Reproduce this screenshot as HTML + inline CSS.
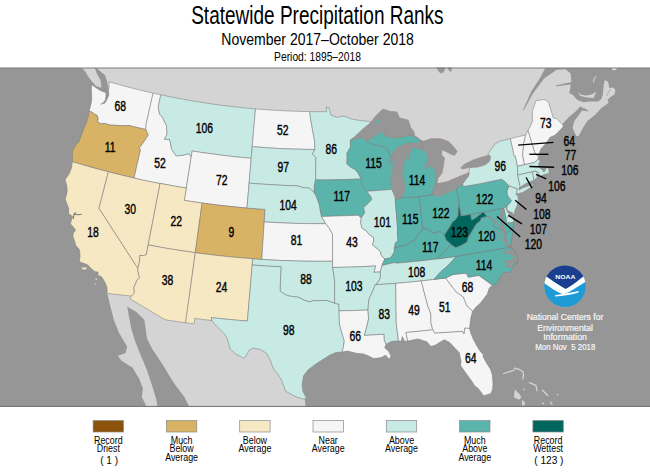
<!DOCTYPE html><html><head><meta charset="utf-8"><style>
html,body{margin:0;padding:0;background:#fff;width:650px;height:475px;overflow:hidden}
svg{display:block}
</style></head><body><svg width="650" height="475" viewBox="0 0 650 475">
<g font-family="Liberation Sans, sans-serif" text-anchor="middle" fill="#000">
<text transform="translate(317.4 23.9) scale(0.731 1)" font-size="26">Statewide Precipitation Ranks</text>
<text transform="translate(317.6 44.6) scale(0.825 1)" font-size="17">November 2017&#8211;October 2018</text>
<text transform="translate(317.5 60.6) scale(0.857 1)" font-size="12">Period: 1895&#8211;2018</text>
</g>
<rect x="0" y="68" width="650" height="338.8" fill="#969696"/>
<path d="M545.3,68.0 540.3,77.4 531.4,91.3 522.6,110.9 524.5,109.0 532.7,93.8 544.1,78.6 556.7,69.8 565.6,69.2 570.6,73.6 571.2,80.0 571.2,82.3 566.5,83.1 560.0,84.5 555.8,85.4 556.0,86.6 561.0,85.8 566.0,85.0 570.4,84.6 570.4,87.7 569.2,93.1 573.5,95.4 577.3,100.0 583.5,102.3 589.6,101.5 598.1,101.5 601.2,99.2 602.7,95.4 603.8,84.5 604.8,79.9 608.0,81.7 609.4,88.2 613.1,87.2 615.4,90.0 614.5,94.6 609.8,97.4 607.5,100.2 608.7,102.8 605.0,105.4 601.7,107.8 595.0,115.0 587.8,120.5 582.8,128.0 579.0,135.6 576.4,136.3 572.6,128.0 574.2,121.3 579.5,113.9 582.0,110.5 589.0,111.5 586.0,109.0 582.5,107.8 580.4,106.2 578.0,109.0 575.3,111.8 569.0,117.1 563.7,122.4 562.5,124.2 550.0,135.0 480.0,175.0 350.0,200.0 150.0,150.0 110.0,95.0 106.9,80.8 105.1,75.2 100.5,71.5 96.8,68.0Z" fill="#d4d4d4" stroke="none"/>
<path d="M82.0,68.0 85.2,71.5 88.5,77.1 92.2,81.7 95.9,85.9 101.4,87.7 100.5,79.9 96.8,73.4 94.9,68.0Z" fill="#d4d4d4" stroke="none"/>
<path d="M578.1,91.2 579.6,95.4 584.2,96.9 589.6,97.7 593.5,98.1 596.5,91.5 591.9,94.6 585.8,95.4 580.4,94.6Z" fill="#d4d4d4" stroke="none"/>
<path d="M107.2,293.3 109.8,303.9 113.8,319.8 119.1,333.1 127.1,346.4 125.7,353.0 117.8,355.7 121.8,361.0 132.4,367.6 139.0,378.2 143.0,388.8 141.7,396.8 145.7,404.8 146.0,407.0 157.6,407.0 156.3,399.5 152.3,386.2 147.0,370.3 140.3,354.3 135.0,341.0 131.1,327.8 127.1,306.5 136.4,311.9 144.3,319.8 147.0,338.4 152.3,349.0 162.9,365.0 170.9,378.2 176.2,386.2 184.2,396.8 189.5,407.0 305.8,407.0 304.6,398.7 290.0,320.0 200.0,300.0 131.0,290.0Z" fill="#d4d4d4" stroke="none"/>
<path d="M436.2,67.5 445.5,67.5 443.8,72.3 440.5,73.6 438.6,71.2Z" fill="#969696"/>
<path d="M447.2,67.5 L451.8,67.5 L451.2,72.2 L448.6,70Z" fill="#969696"/>
<g stroke="#7c7c7c" stroke-width="0.55" stroke-linejoin="round"><path d="M108.8,81.8 116.2,83.8 123.5,85.8 130.9,87.8 138.3,89.6 145.7,91.4 153.1,93.1 146.1,124.2 145.9,129.5 140.3,128.2 134.7,126.9 129.1,125.6 126.3,125.8 121.1,125.7 115.2,125.3 110.0,125.1 104.3,123.4 101.1,124.0 97.4,121.6 98.0,118.3 97.0,115.4 94.4,114.0 91.9,112.2 89.1,111.2 90.5,105.9 91.7,99.9 91.6,94.6 91.3,90.0 91.6,84.6 94.5,86.7 99.4,89.9 103.9,91.9 105.9,92.2 106.0,96.3 105.2,100.6 101.6,104.1 100.8,103.9 104.9,103.1 106.7,99.7 108.8,95.2 108.5,90.6 109.2,85.1 108.8,81.8Z" fill="#f5f5f5"/><path d="M145.9,129.5 140.3,128.2 134.7,126.9 129.1,125.6 126.3,125.8 121.1,125.7 115.2,125.3 110.0,125.1 104.3,123.4 101.1,124.0 97.4,121.6 98.0,118.3 97.0,115.4 94.4,114.0 91.9,112.2 89.1,111.2 88.3,117.0 86.3,122.9 83.9,128.6 81.7,134.5 79.1,141.5 75.5,145.6 72.6,150.6 72.4,155.8 72.4,161.7 79.5,163.8 86.7,165.9 93.9,167.9 101.2,169.9 108.4,171.8 116.9,173.9 125.5,176.0 134.1,178.0 139.0,156.0 140.6,150.0 139.4,147.8 143.1,142.9 146.2,138.5 148.3,135.1 147.2,132.3 145.9,129.5Z" fill="#d8b365"/><path d="M72.4,161.7 79.5,163.8 86.7,165.9 93.9,167.9 101.2,169.9 108.4,171.8 99.0,208.2 137.9,268.4 138.0,271.6 139.4,277.6 136.7,280.9 133.9,287.3 134.3,293.1 131.5,296.1 107.2,293.4 106.9,286.7 103.4,279.5 101.0,276.3 98.1,275.7 98.0,272.0 95.0,271.7 91.6,268.9 87.5,264.7 80.3,262.2 79.4,260.6 80.1,256.3 79.3,249.6 75.9,245.5 72.9,236.2 73.3,233.0 75.5,230.4 74.2,228.1 70.4,223.8 72.5,216.6 68.5,213.4 68.8,209.0 65.3,199.4 67.2,191.5 66.9,186.2 65.1,179.7 69.2,173.8 71.5,167.9 72.4,161.7Z" fill="#f6e8c3"/><path d="M108.4,171.8 116.9,173.9 125.5,176.0 134.1,178.0 142.7,179.9 151.4,181.7 160.1,183.4 148.2,244.9 146.3,254.7 143.7,255.5 139.8,255.4 139.6,261.1 137.9,268.4 99.0,208.2 108.4,171.8Z" fill="#f6e8c3"/><path d="M153.1,93.1 160.8,94.8 158.2,107.1 159.6,114.1 162.3,117.2 166.5,125.6 167.0,133.9 164.6,139.2 169.7,139.5 171.7,149.4 176.2,155.9 183.3,155.2 188.8,153.6 191.2,157.2 186.3,188.0 177.5,186.6 168.8,185.0 160.1,183.4 151.4,181.7 142.7,179.9 134.1,178.0 139.0,156.0 140.6,150.0 139.4,147.8 143.1,142.9 146.2,138.5 148.3,135.1 147.2,132.3 145.9,129.5 146.1,124.2 153.1,93.1Z" fill="#f5f5f5"/><path d="M160.8,94.8 168.0,96.3 175.2,97.7 182.5,99.1 189.7,100.4 197.0,101.6 204.3,102.8 211.5,103.9 218.8,104.9 226.1,105.8 233.5,106.7 240.8,107.5 248.1,108.2 255.5,108.9 252.2,146.6 251.2,158.3 243.8,157.6 236.4,156.9 229.0,156.1 221.6,155.2 214.3,154.2 206.9,153.2 199.5,152.2 192.2,151.0 191.2,157.2 188.8,153.6 183.3,155.2 176.2,155.9 171.7,149.4 169.7,139.5 164.6,139.2 167.0,133.9 166.5,125.6 162.3,117.2 159.6,114.1 158.2,107.1 160.8,94.8Z" fill="#c7eae5"/><path d="M191.2,157.2 192.2,151.0 199.5,152.2 206.9,153.2 214.3,154.2 221.6,155.2 229.0,156.1 236.4,156.9 243.8,157.6 251.2,158.3 249.1,183.1 247.0,208.1 239.5,207.4 232.0,206.6 224.5,205.8 217.1,205.0 209.6,204.0 202.1,203.0 196.2,202.2 190.2,201.3 184.3,200.4 186.3,188.0 191.2,157.2Z" fill="#f5f5f5"/><path d="M160.1,183.4 168.8,185.0 177.5,186.6 186.3,188.0 184.3,200.4 190.2,201.3 196.2,202.2 202.1,203.0 195.3,252.7 187.4,251.5 179.5,250.4 171.7,249.1 163.8,247.8 156.0,246.4 148.2,244.9 160.1,183.4Z" fill="#f6e8c3"/><path d="M202.1,203.0 209.6,204.0 217.1,205.0 224.5,205.8 232.0,206.6 239.5,207.4 247.0,208.1 253.0,208.5 259.0,209.0 265.0,209.4 264.2,221.9 261.8,259.4 252.7,258.8 244.5,258.1 236.2,257.4 228.0,256.6 219.8,255.7 211.6,254.8 203.5,253.8 195.3,252.7 202.1,203.0Z" fill="#d8b365"/><path d="M195.3,252.7 187.4,251.5 179.5,250.4 171.7,249.1 163.8,247.8 156.0,246.4 148.2,244.9 146.3,254.7 143.7,255.5 139.8,255.4 139.6,261.1 137.9,268.4 138.0,271.6 139.4,277.6 136.7,280.9 133.9,287.3 134.3,293.1 131.5,296.1 130.0,298.8 165.0,319.7 171.9,320.8 178.7,321.8 185.6,322.8 195.3,252.7Z" fill="#f6e8c3"/><path d="M195.3,252.7 203.5,253.8 211.6,254.8 219.8,255.7 228.0,256.6 236.2,257.4 244.5,258.1 252.7,258.8 252.2,265.0 247.4,321.0 238.4,320.3 229.4,319.5 220.3,318.6 211.3,317.6 211.9,320.5 203.4,319.5 194.8,318.4 194.1,323.9 185.6,322.8 195.3,252.7Z" fill="#f6e8c3"/><path d="M255.5,108.9 263.2,109.5 271.0,110.1 278.7,110.5 286.5,110.9 294.3,111.2 302.0,111.5 309.8,111.6 310.4,117.8 311.5,124.0 313.0,132.6 314.6,141.3 314.9,149.5 307.1,149.4 299.2,149.2 291.4,149.0 283.5,148.7 275.7,148.3 267.9,147.8 260.0,147.2 252.2,146.6 255.5,108.9Z" fill="#f5f5f5"/><path d="M252.2,146.6 260.0,147.2 267.9,147.8 275.7,148.3 283.5,148.7 291.4,149.0 299.2,149.2 307.1,149.4 314.9,149.5 312.4,153.7 315.8,157.5 315.6,179.9 314.3,186.2 314.2,192.4 309.0,188.0 303.7,187.9 297.6,185.9 289.5,185.6 281.4,185.3 273.4,184.8 265.3,184.3 257.2,183.8 249.1,183.1 251.2,158.3 252.2,146.6Z" fill="#c7eae5"/><path d="M249.1,183.1 257.2,183.8 265.3,184.3 273.4,184.8 281.4,185.3 289.5,185.6 297.6,185.9 303.7,187.9 309.0,188.0 314.2,192.4 316.4,196.2 319.5,204.9 320.4,211.2 321.6,216.5 325.8,223.7 317.0,223.7 308.2,223.6 299.4,223.5 290.6,223.2 281.8,222.9 273.0,222.4 264.2,221.9 265.0,209.4 259.0,209.0 253.0,208.5 247.0,208.1 249.1,183.1Z" fill="#c7eae5"/><path d="M264.2,221.9 273.0,222.4 281.8,222.9 290.6,223.2 299.4,223.5 308.2,223.6 317.0,223.7 325.8,223.7 329.6,228.7 332.5,234.3 332.6,261.2 323.8,261.3 314.9,261.3 306.1,261.2 297.2,261.0 288.4,260.7 279.5,260.4 270.7,259.9 261.8,259.4 264.2,221.9Z" fill="#f5f5f5"/><path d="M261.8,259.4 270.7,259.9 279.5,260.4 288.4,260.7 297.2,261.0 306.1,261.2 314.9,261.3 323.8,261.3 332.6,261.2 332.7,267.5 334.7,281.2 334.6,303.2 326.4,300.4 319.4,300.7 313.4,300.7 309.4,301.9 303.5,299.9 298.6,297.3 293.6,296.6 287.7,295.8 282.8,293.1 280.0,291.0 281.0,266.7 273.8,266.4 266.6,266.0 259.4,265.5 252.2,265.0 252.7,258.8 261.8,259.4Z" fill="#c7eae5"/><path d="M334.6,303.2 326.4,300.4 319.4,300.7 313.4,300.7 309.4,301.9 303.5,299.9 298.6,297.3 293.6,296.6 287.7,295.8 282.8,293.1 280.0,291.0 281.0,266.7 273.8,266.4 266.6,266.0 259.4,265.5 252.2,265.0 247.4,321.0 238.4,320.3 229.4,319.5 220.3,318.6 211.3,317.6 211.9,320.5 214.9,324.3 220.5,329.9 226.1,336.0 228.6,343.1 230.2,348.9 235.0,353.6 240.1,356.3 243.7,358.4 246.6,355.2 249.0,350.4 252.9,348.2 260.6,349.5 266.7,353.4 270.6,361.0 273.4,368.6 277.5,373.7 281.5,380.0 285.5,391.2 295.2,396.4 302.8,399.0 306.7,398.3 302.6,391.0 302.1,384.5 303.6,375.7 308.0,370.0 313.9,365.4 322.0,360.0 330.1,355.0 336.0,352.5 342.0,352.1 343.4,347.1 344.3,340.9 342.0,333.5 339.4,323.7 339.1,310.9 339.0,304.3 334.6,303.2Z" fill="#c7eae5"/><path d="M309.8,111.6 315.4,111.7 320.9,111.7 326.4,111.7 326.4,107.0 329.0,107.9 330.9,115.1 337.3,117.4 343.7,116.0 351.9,119.1 360.0,120.5 368.2,121.3 371.5,122.3 369.0,126.5 360.0,134.5 350.3,140.0 350.5,147.0 346.9,153.3 347.1,157.1 346.9,163.9 351.3,167.5 354.8,169.2 358.4,173.4 361.1,178.9 353.5,179.3 346.0,179.5 338.4,179.7 330.8,179.9 323.2,179.9 315.6,179.9 315.8,157.5 312.4,153.7 314.9,149.5 314.6,141.3 313.0,132.6 311.5,124.0 310.4,117.8 309.8,111.6Z" fill="#c7eae5"/><path d="M315.6,179.9 323.2,179.9 330.8,179.9 338.4,179.7 346.0,179.5 353.5,179.3 361.1,178.9 362.0,185.2 366.7,191.2 371.0,196.6 371.7,199.7 367.9,203.6 363.6,207.6 364.7,212.6 361.2,218.0 358.2,215.3 321.6,216.5 320.4,211.2 319.5,204.9 316.4,196.2 314.2,192.4 314.3,186.2 315.6,179.9Z" fill="#5ab4ac"/><path d="M321.6,216.5 358.2,215.3 361.2,218.0 360.7,222.8 361.8,227.8 366.6,231.3 369.6,234.9 373.4,237.2 373.7,240.9 372.5,244.8 376.9,248.3 380.5,251.8 381.2,255.5 384.8,259.0 381.9,265.5 380.4,271.9 373.9,272.3 375.6,265.9 367.1,266.4 358.5,266.8 349.9,267.1 341.3,267.3 332.7,267.5 332.6,261.2 332.5,234.3 329.6,228.7 325.8,223.7 321.6,216.5Z" fill="#f5f5f5"/><path d="M380.4,271.9 373.9,272.3 375.6,265.9 367.1,266.4 358.5,266.8 349.9,267.1 341.3,267.3 332.7,267.5 334.7,281.2 334.6,303.2 339.0,304.3 339.1,310.9 368.0,310.1 368.4,303.9 369.1,298.8 372.7,291.1 375.3,284.7 377.2,283.4 380.3,278.2 380.4,271.9Z" fill="#c7eae5"/><path d="M368.0,310.1 339.1,310.9 339.4,323.7 342.0,333.5 344.3,340.9 343.4,347.1 342.0,352.1 347.6,351.1 355.1,353.0 358.2,353.5 363.5,353.9 368.9,356.1 373.2,358.4 378.5,358.1 381.6,357.3 385.7,355.2 389.2,359.3 391.1,356.1 388.6,351.3 384.7,347.8 386.1,344.2 384.3,340.4 384.1,334.2 374.2,334.7 364.4,335.2 366.5,327.7 368.6,318.8 368.0,310.1Z" fill="#f5f5f5"/><path d="M350.3,140.0 360.0,134.0 366.0,140.7 369.5,142.9 377.2,145.5 384.9,146.8 387.6,149.1 390.8,156.9 393.5,156.0 397.0,152.0 398.0,160.0 396.0,170.0 395.0,181.0 394.5,189.0 391.8,189.4 383.5,190.1 375.1,190.7 366.7,191.2 362.0,185.2 361.1,178.9 358.4,173.4 354.8,169.2 351.3,167.5 346.9,163.9 347.1,157.1 346.9,153.3 350.5,147.0 350.3,140.0Z" fill="#5ab4ac"/><path d="M391.8,189.4 383.5,190.1 375.1,190.7 366.7,191.2 371.0,196.6 371.7,199.7 367.9,203.6 363.6,207.6 364.7,212.6 361.2,218.0 360.7,222.8 361.8,227.8 366.6,231.3 369.6,234.9 373.4,237.2 373.7,240.9 372.5,244.8 376.9,248.3 380.5,251.8 381.2,255.5 384.8,259.0 390.9,257.7 394.3,252.0 394.4,248.3 395.4,243.2 398.0,240.4 397.5,234.8 397.6,228.5 395.2,199.2 395.5,195.0 391.8,189.4Z" fill="#c7eae5"/><path d="M395.2,199.2 397.6,228.5 397.5,234.8 398.0,240.4 395.4,243.2 394.4,248.3 398.6,246.7 405.1,245.4 408.7,243.8 410.4,242.4 414.9,240.3 418.1,234.7 422.9,229.1 419.2,196.7 401.3,197.9 399.0,198.5 395.2,199.2Z" fill="#5ab4ac"/><path d="M422.9,229.1 419.2,196.7 431.2,194.9 440.0,193.5 450.0,189.0 457.0,186.0 456.6,188.0 459.3,204.5 458.4,210.0 458.2,215.8 455.8,219.5 452.6,222.1 449.5,227.4 447.4,230.5 444.5,235.2 440.2,231.3 433.9,233.4 426.8,228.6 422.9,229.1Z" fill="#5ab4ac"/><path d="M366.0,140.7 369.5,142.9 377.2,145.5 384.9,146.8 387.6,149.1 390.8,156.9 393.0,156.0 398.0,150.0 405.0,146.5 414.0,147.0 421.0,145.5 422.9,141.0 419.0,139.5 413.0,134.0 405.0,127.0 395.0,122.0 385.0,122.0 375.0,132.0 366.0,140.7Z" fill="#5ab4ac"/><path d="M401.3,197.9 403.0,192.0 403.0,184.0 400.0,172.0 402.0,163.0 404.5,157.0 406.0,152.0 409.0,149.0 414.0,148.0 420.0,148.0 424.0,150.0 428.5,153.0 430.0,160.0 427.0,166.5 431.0,164.5 435.0,167.5 436.5,175.0 437.0,181.0 436.0,184.0 434.5,189.0 431.2,194.9 419.2,196.7 401.3,197.9Z" fill="#5ab4ac"/><path d="M384.8,259.0 390.9,257.7 394.3,252.0 394.4,248.3 398.6,246.7 405.1,245.4 408.7,243.8 410.4,242.4 414.9,240.3 418.1,234.7 422.9,229.1 426.8,228.6 433.9,233.4 440.2,231.3 444.5,235.2 446.3,240.0 451.9,245.0 450.7,245.0 443.9,251.7 437.2,258.9 428.9,259.9 420.6,260.9 412.3,261.7 404.0,262.5 395.7,263.2 395.4,262.3 381.9,265.5 384.8,259.0Z" fill="#5ab4ac"/><path d="M437.2,258.9 428.9,259.9 420.6,260.9 412.3,261.7 404.0,262.5 395.7,263.2 395.4,262.3 381.9,265.5 380.4,271.9 380.3,278.2 377.2,283.4 375.3,284.7 382.1,284.3 389.0,283.8 395.8,283.3 404.3,282.6 412.8,281.8 421.2,280.9 427.6,280.2 433.9,279.5 440.8,271.7 448.7,264.9 456.2,256.4 437.2,258.9Z" fill="#c7eae5"/><path d="M375.3,284.7 372.7,291.1 369.1,298.8 368.4,303.9 368.0,310.1 368.6,318.8 366.5,327.7 364.4,335.2 374.2,334.7 384.1,334.2 384.3,340.4 386.1,344.2 392.1,341.3 398.4,340.9 396.2,322.1 395.8,283.3 389.0,283.8 382.1,284.3 375.3,284.7Z" fill="#c7eae5"/><path d="M398.4,340.9 396.2,322.1 395.8,283.3 404.3,282.6 412.8,281.8 421.2,280.9 428.0,306.6 430.9,313.8 430.9,322.5 432.7,329.8 423.8,330.8 414.9,331.7 406.0,332.5 406.1,333.7 407.8,341.1 404.7,341.3 402.2,336.6 401.5,341.0 398.4,340.9Z" fill="#f5f5f5"/><path d="M432.7,329.8 430.9,322.5 430.9,313.8 428.0,306.6 421.2,280.9 427.6,280.2 433.9,279.5 439.7,278.7 445.6,278.0 451.6,286.0 456.5,292.2 463.3,296.9 466.6,305.2 472.6,311.2 471.0,317.1 470.2,322.3 469.6,328.5 464.8,328.1 464.1,333.9 462.2,331.4 434.6,333.2 432.7,329.8Z" fill="#f5f5f5"/><path d="M407.8,341.1 406.1,333.7 406.0,332.5 414.9,331.7 423.8,330.8 432.7,329.8 434.6,333.2 462.2,331.4 464.1,333.9 464.8,328.1 469.6,328.5 470.9,333.5 473.4,339.4 477.1,346.3 480.0,350.9 483.3,354.7 483.1,356.6 486.2,362.4 490.5,369.2 492.3,375.1 493.0,383.7 492.7,388.7 491.2,393.3 488.0,394.4 483.7,395.7 478.2,388.5 474.4,385.4 471.5,380.8 467.4,375.2 463.3,369.6 460.6,365.6 461.0,361.2 459.3,352.7 455.0,348.3 450.0,342.7 444.4,339.7 440.4,342.0 435.5,345.1 430.9,346.5 426.7,341.7 418.0,338.9 407.8,341.1Z" fill="#f5f5f5"/><path d="M472.6,311.2 466.6,305.2 463.3,296.9 456.5,292.2 451.6,286.0 445.6,278.0 453.0,274.4 465.2,273.2 466.7,273.6 468.3,277.2 473.6,276.3 478.9,275.4 492.3,285.1 489.2,288.2 487.2,294.3 483.9,298.6 480.6,303.0 476.1,306.9 472.6,311.2Z" fill="#f5f5f5"/><path d="M492.3,285.1 478.9,275.4 473.6,276.3 468.3,277.2 466.7,273.6 465.2,273.2 453.0,274.4 445.6,278.0 439.7,278.7 433.9,279.5 440.8,271.7 448.7,264.9 456.2,256.4 511.4,246.9 512.9,251.1 517.1,256.6 518.3,262.1 514.0,265.5 510.4,272.1 504.4,272.6 499.3,277.4 497.5,283.5 492.3,285.1Z" fill="#5ab4ac"/><path d="M511.4,246.9 456.2,256.4 437.2,258.9 443.9,251.7 450.7,245.0 451.9,245.0 455.8,247.4 461.0,245.3 466.8,242.1 468.4,236.8 471.6,231.6 474.7,226.3 476.8,223.2 480.0,221.0 481.1,217.9 484.2,216.8 487.4,216.4 494.6,221.0 493.5,226.9 503.8,230.6 505.2,236.0 506.5,242.0 508.0,247.0 511.4,246.9Z" fill="#5ab4ac"/><path d="M504.5,233.0 506.0,241.8 508.0,246.0 510.5,245.0 512.0,238.0 513.0,232.0 513.3,227.5 512.0,229.0 509.0,231.0 504.5,233.0Z" fill="#5ab4ac"/><path d="M451.9,245.0 446.3,240.0 444.5,235.2 447.4,230.5 449.5,227.4 452.6,222.1 455.8,219.5 458.2,215.8 458.4,210.0 459.3,204.5 461.1,215.9 465.9,215.1 470.6,214.3 471.7,220.0 474.7,218.4 481.0,213.7 482.1,212.1 484.2,212.6 486.3,215.8 487.4,216.4 484.2,216.8 481.1,217.9 480.0,221.0 476.8,223.2 474.7,226.3 471.6,231.6 468.4,236.8 466.8,242.1 461.0,245.3 455.8,247.4 451.9,245.0Z" fill="#01665e"/><path d="M487.4,216.4 486.3,215.8 484.2,212.6 482.1,212.1 481.0,213.7 474.7,218.4 471.7,220.0 470.6,214.3 478.9,212.9 487.2,211.3 495.6,209.6 503.9,207.9 507.1,223.4 513.9,222.0 513.3,227.5 512.0,229.0 509.0,231.0 504.5,233.0 504.2,229.2 502.8,222.9 501.8,217.6 502.9,210.3 500.8,217.6 501.8,222.9 503.4,229.2 503.8,230.6 493.5,226.9 494.6,221.0 487.4,216.4Z" fill="#5ab4ac"/><path d="M503.9,207.9 507.1,223.4 513.9,222.0 513.0,217.7 510.2,215.8 507.3,211.3 506.2,208.3 507.1,205.9 503.9,207.9Z" fill="#c7eae5"/><path d="M470.6,214.3 478.9,212.9 487.2,211.3 495.6,209.6 503.9,207.9 507.1,205.9 509.4,203.8 511.6,200.7 507.7,195.8 507.0,190.8 509.2,185.9 504.4,181.1 501.6,179.2 494.0,180.8 486.3,182.4 478.6,183.9 470.9,185.3 463.2,186.6 462.7,183.3 462.0,183.5 456.6,188.0 459.3,204.5 461.1,215.9 465.9,215.1 470.6,214.3Z" fill="#5ab4ac"/><path d="M507.1,205.9 509.4,203.8 511.6,200.7 507.7,195.8 507.0,190.8 509.2,185.9 517.2,188.6 516.8,193.1 515.8,194.6 517.8,195.4 518.4,199.8 517.3,205.2 514.8,210.9 513.5,215.9 512.4,212.7 508.2,211.1 506.9,209.4 507.1,205.9Z" fill="#c7eae5"/><path d="M509.2,185.9 504.4,181.1 501.6,179.2 494.0,180.8 486.3,182.4 478.6,183.9 470.9,185.3 463.2,186.6 462.7,183.3 468.0,176.0 469.0,171.0 470.0,167.0 478.0,164.0 486.0,161.0 489.5,157.0 487.9,154.0 494.6,144.3 499.2,141.4 510.4,138.6 513.2,150.9 514.0,155.9 515.4,156.2 517.5,166.1 517.6,174.9 520.1,186.5 519.3,188.0 518.9,190.0 522.6,187.9 529.4,185.6 534.9,183.3 530.0,188.0 522.7,192.4 517.5,194.0 516.8,193.1 517.2,188.6 509.2,185.9Z" fill="#c7eae5"/><path d="M517.6,174.9 520.1,186.5 519.3,188.0 524.5,184.2 530.3,181.7 534.1,180.2 532.4,171.6 517.6,174.9Z" fill="#c7eae5"/><path d="M534.1,180.2 532.4,171.6 536.0,170.7 536.4,172.2 537.9,171.8 539.9,176.4 539.2,176.6 536.8,174.6 537.2,177.8 534.1,180.2Z" fill="#c7eae5"/><path d="M532.4,171.6 517.6,174.9 517.5,166.1 524.5,164.5 534.5,162.3 538.2,159.1 540.6,161.3 539.1,162.4 538.4,166.5 541.9,169.4 544.0,172.1 545.9,169.0 546.8,167.1 548.7,168.8 549.4,173.2 543.8,174.7 539.9,176.4 537.9,171.8 536.4,172.2 536.0,170.7 532.4,171.6Z" fill="#c7eae5"/><path d="M510.4,138.6 513.2,150.9 514.0,155.9 515.4,156.2 517.5,166.1 524.5,164.5 522.7,155.0 523.6,144.5 525.6,134.9 518.0,136.8 510.4,138.6Z" fill="#f5f5f5"/><path d="M524.5,164.5 522.7,155.0 523.6,144.5 525.6,134.9 528.1,130.5 535.0,153.1 538.4,156.4 538.2,159.1 534.5,162.3 524.5,164.5Z" fill="#f5f5f5"/><path d="M538.4,156.4 535.0,153.1 528.1,130.5 532.5,121.5 532.3,111.3 536.1,100.6 544.3,99.5 548.4,101.8 553.3,118.1 556.5,118.5 562.4,124.5 563.4,126.5 559.8,130.5 554.9,135.2 550.1,137.3 545.7,143.7 540.9,148.9 538.4,156.4Z" fill="#f5f5f5"/></g>
<path d="M409,147.5 L422,146.5 L423,150 L409,150.5Z" fill="#5ab4ac"/>
<path d="M350.7,140.5 361.4,130.3 370.3,122.8 375.3,116.4 381.7,110.1 382.9,109.1 390.5,111.4 396.8,112.0 399.4,117.7 408.2,120.2 410.7,127.8 413.9,131.6 414.5,136.7 419.6,139.2 421.7,142.0 417.9,137.6 410.3,135.1 403.2,136.7 395.6,137.9 386.7,136.7 382.9,133.5 386.7,128.4 380.4,132.9 375.3,135.4 367.8,140.5 361.4,137.3Z" fill="#969696" stroke="#a08a8a" stroke-width="0.7"/>
<path d="M414.1,146.4 412.0,144.3 408.7,143.0 402.8,145.1 397.7,147.6 393.5,152.0 388.5,163.6 389.5,164.2 393.5,156.5 395.8,152.8 395.2,154.4 393.9,160.3 393.1,167.0 391.8,175.0 390.8,181.2 392.3,190.4 395.0,197.3 397.3,199.2 401.2,197.3 404.2,191.9 404.6,184.2 401.9,175.0 403.6,162.8 406.1,156.9 407.0,155.2 407.8,159.4 409.0,159.6 409.5,153.0 411.2,150.2 412.5,147.5Z" fill="#969696" stroke="#a08a8a" stroke-width="0.7"/>
<path d="M414.1,146.4 421.7,142.0 430.6,138.8 440.7,138.8 448.3,141.4 453.3,146.4 457.1,151.5 454.6,155.3 450.8,154.0 442.0,149.5 441.4,155.0 444.5,157.8 443.2,166.7 442.0,173.0 438.2,178.0 436.9,181.8 435.8,181.0 435.5,175.0 434.4,167.9 430.6,165.4 425.5,169.2 425.0,167.0 428.0,160.3 426.8,152.8 421.7,149.0Z" fill="#969696" stroke="#a08a8a" stroke-width="0.7"/>
<path d="M408.7,143.0 414.0,143.6 421.7,142.0 423.0,146.0 421.7,149.0 416.0,147.8 412.5,147.5Z" fill="#969696" stroke="#a08a8a" stroke-width="0.7"/>
<path d="M436.9,181.8 435.0,185.0 433.3,189.3 435.0,189.5 437.8,183.5Z" fill="#969696" stroke="#a08a8a" stroke-width="0.7"/>
<path d="M432.6,192.9 436.4,196.7 445.2,193.6 455.3,189.1 462.9,183.4 468.6,175.9 469.2,172.7 465.5,174.0 457.9,177.1 450.3,180.3 441.4,185.3 433.8,189.1Z" fill="#969696" stroke="#a08a8a" stroke-width="0.7"/>
<path d="M461.0,167.6 461.7,168.9 469.2,167.6 478.1,167.0 485.7,164.5 489.5,161.3 490.7,157.5 489.5,155.0 480.6,157.5 473.0,160.1 464.2,164.5Z" fill="#969696" stroke="#a08a8a" stroke-width="0.7"/>
<g fill="none" stroke="#a08c8c" stroke-linecap="round" stroke-linejoin="round"><path d="M502.9,210.3 L500.8,217.6 L501.8,222.9 L503.4,229.2 L505,235.5 L506,241.8 L508,246.5" stroke-width="2.4"/><path d="M489.2,215.6 L492,219.5 L496,221.5 L499,225 L503,229" stroke-width="1.1"/><path d="M494,231 L499,233 L504,236" stroke-width="1"/><path d="M497,238 L501,240 L505.5,241.5" stroke-width="1"/><path d="M507,224 L509,222 M507,218 L509,215.5" stroke-width="0.9"/></g>
<path d="M374,123.8 L376,121.5 L380,119.6 L380.8,120.4 L377,122.9 L374.6,124.3Z" fill="#5ab4ac" stroke="none"/>
<g fill="none" stroke="#d4d4d4" stroke-width="1.3" stroke-linecap="round" stroke-linejoin="round"><path d="M503.6,373.5 L509,371.8 L514.4,370.2"/><path d="M514.4,368.1 L518.7,369.2 L523,371.8 L523.5,375.1 L522.8,378.8"/><path d="M529.5,382.6 L535.9,385.3 L537,390.7"/><path d="M542.4,390.2 L547.8,395.5"/><path d="M557.5,394.5 L557.8,394.8"/><path d="M523.5,389.6 L524,389.3"/><path d="M542.4,403 L543.5,403.8 M550.5,402 L552,404.5"/></g>
<path d="M514.9,389.6 L519.8,394.5 L521.4,397.2 L519.2,399.8 L513.8,397.2Z M522,400 L524.6,402 L524.8,405.5 L522,405.5Z" fill="#d4d4d4"/>
<g fill="#f6e8c3"><path d="M81.6,267.6 L86.8,267.4 L86,269.5 L82,269.3Z"/><path d="M95.6,278.5 L97,278.8 L96.6,280 L95.5,279.8Z"/><path d="M94.8,283.5 L95.8,284 L95.4,285 L94.6,284.6Z"/></g>
<path d="M73.2,219 L74,214 L76,212.5 M74.5,214.2 L78.5,214.8 L81.5,214.3" fill="none" stroke="#7a7a7a" stroke-width="1.1"/>
<path d="M510.5,246.5 L514,250.1 L517.1,255.7 L517.7,261.4 L513.3,264.6 L510.2,267.2 L505.5,266.8 L508,263.8 L504,261.4 L508,260.4 L512,260.6 L513.6,257.4 L512.5,254.8 L508.9,253.4 L505.1,254.2 L503,250.8 L508.3,251.5 L511,250Z" fill="#969696" stroke="#a08c8c" stroke-width="0.6"/>
<path d="M510.2,245 L514,250.1 L517.1,255.7 L517.7,261.4 L513.3,264.6" fill="none" stroke="#6f8f8a" stroke-width="0.7"/>
<path d="M611.5,68 L617,68 L616,69.8 L613,70.3Z" fill="#e6e6e6"/><path d="M596.3,76.5 L594,79 L593.6,82.3" fill="none" stroke="#d4d4d4" stroke-width="1.1"/><path d="M606.5,96 L609,91 L611,89" fill="none" stroke="#9a9a9a" stroke-width="0.6"/>
<rect x="0" y="67.5" width="650" height="1" fill="#7a7a7a"/><rect x="0" y="405.9" width="650" height="1.1" fill="#777"/>
<g font-family="Liberation Sans, sans-serif" font-size="13.8" text-anchor="middle" fill="#000"><text transform="translate(120.2 111.4) scale(0.750 1)" stroke="#000" stroke-width="0.4">68</text><text transform="translate(110.2 151.5) scale(0.750 1)" stroke="#000" stroke-width="0.4">11</text><text transform="translate(93.0 237.3) scale(0.750 1)" stroke="#000" stroke-width="0.4">18</text><text transform="translate(130.3 214.1) scale(0.750 1)" stroke="#000" stroke-width="0.4">30</text><text transform="translate(160.0 168.3) scale(0.750 1)" stroke="#000" stroke-width="0.4">52</text><text transform="translate(204.3 133.1) scale(0.750 1)" stroke="#000" stroke-width="0.4">106</text><text transform="translate(221.8 184.8) scale(0.750 1)" stroke="#000" stroke-width="0.4">72</text><text transform="translate(176.3 225.7) scale(0.750 1)" stroke="#000" stroke-width="0.4">22</text><text transform="translate(231.5 237.2) scale(0.750 1)" stroke="#000" stroke-width="0.4">9</text><text transform="translate(167.5 284.8) scale(0.750 1)" stroke="#000" stroke-width="0.4">38</text><text transform="translate(221.4 291.6) scale(0.750 1)" stroke="#000" stroke-width="0.4">24</text><text transform="translate(282.7 134.5) scale(0.750 1)" stroke="#000" stroke-width="0.4">52</text><text transform="translate(283.3 172.1) scale(0.750 1)" stroke="#000" stroke-width="0.4">97</text><text transform="translate(288.2 210.2) scale(0.750 1)" stroke="#000" stroke-width="0.4">104</text><text transform="translate(296.4 244.6) scale(0.750 1)" stroke="#000" stroke-width="0.4">81</text><text transform="translate(306.0 284.4) scale(0.750 1)" stroke="#000" stroke-width="0.4">88</text><text transform="translate(288.7 335.2) scale(0.750 1)" stroke="#000" stroke-width="0.4">98</text><text transform="translate(331.3 154.2) scale(0.750 1)" stroke="#000" stroke-width="0.4">86</text><text transform="translate(341.7 201.0) scale(0.750 1)" stroke="#000" stroke-width="0.4">117</text><text transform="translate(352.1 247.2) scale(0.750 1)" stroke="#000" stroke-width="0.4">43</text><text transform="translate(354.0 290.9) scale(0.750 1)" stroke="#000" stroke-width="0.4">103</text><text transform="translate(355.2 341.4) scale(0.750 1)" stroke="#000" stroke-width="0.4">66</text><text transform="translate(373.6 167.7) scale(0.750 1)" stroke="#000" stroke-width="0.4">115</text><text transform="translate(382.3 226.8) scale(0.750 1)" stroke="#000" stroke-width="0.4">101</text><text transform="translate(384.2 319.3) scale(0.750 1)" stroke="#000" stroke-width="0.4">83</text><text transform="translate(416.9 185.2) scale(0.750 1)" stroke="#000" stroke-width="0.4">114</text><text transform="translate(410.2 223.8) scale(0.750 1)" stroke="#000" stroke-width="0.4">115</text><text transform="translate(440.9 217.7) scale(0.750 1)" stroke="#000" stroke-width="0.4">122</text><text transform="translate(430.3 251.5) scale(0.750 1)" stroke="#000" stroke-width="0.4">117</text><text transform="translate(416.6 276.6) scale(0.750 1)" stroke="#000" stroke-width="0.4">108</text><text transform="translate(414.0 314.5) scale(0.750 1)" stroke="#000" stroke-width="0.4">49</text><text transform="translate(444.7 312.0) scale(0.750 1)" stroke="#000" stroke-width="0.4">51</text><text transform="translate(470.7 362.9) scale(0.750 1)" stroke="#000" stroke-width="0.4">64</text><text transform="translate(467.5 292.3) scale(0.750 1)" stroke="#000" stroke-width="0.4">68</text><text transform="translate(484.0 270.2) scale(0.750 1)" stroke="#000" stroke-width="0.4">114</text><text transform="translate(486.7 241.1) scale(0.750 1)" stroke="#000" stroke-width="0.4">120</text><text transform="translate(459.4 236.6) scale(0.750 1)" stroke="#000" stroke-width="0.4">123</text><text transform="translate(484.7 203.7) scale(0.750 1)" stroke="#000" stroke-width="0.4">122</text><text transform="translate(500.3 170.9) scale(0.750 1)" stroke="#000" stroke-width="0.4">96</text><text transform="translate(545.8 127.7) scale(0.750 1)" stroke="#000" stroke-width="0.4">73</text><text transform="translate(569.3 146.3) scale(0.750 1)" stroke="#000" stroke-width="0.4">64</text><text transform="translate(570.6 159.7) scale(0.750 1)" stroke="#000" stroke-width="0.4">77</text><text transform="translate(570.0 174.9) scale(0.750 1)" stroke="#000" stroke-width="0.4">106</text><text transform="translate(556.8 190.5) scale(0.750 1)" stroke="#000" stroke-width="0.4">106</text><text transform="translate(541.0 202.8) scale(0.750 1)" stroke="#000" stroke-width="0.4">94</text><text transform="translate(542.0 219.1) scale(0.750 1)" stroke="#000" stroke-width="0.4">108</text><text transform="translate(538.3 233.6) scale(0.750 1)" stroke="#000" stroke-width="0.4">107</text><text transform="translate(533.3 249.1) scale(0.750 1)" stroke="#000" stroke-width="0.4">120</text></g>
<g stroke="#000" stroke-width="1.4"><line x1="518.1" y1="145.1" x2="553.5" y2="142.4"/><line x1="529.4" y1="154.3" x2="548.4" y2="154.3"/><line x1="529.4" y1="166.5" x2="554.1" y2="167.3"/><line x1="536.1" y1="174.4" x2="546.2" y2="178.8"/><line x1="526.1" y1="177.5" x2="532.0" y2="188.1"/><line x1="515.2" y1="200.3" x2="526.4" y2="209.5"/><line x1="508.4" y1="215.4" x2="521.9" y2="223.8"/><line x1="497.0" y1="216.5" x2="520.1" y2="236.8"/></g>
<g font-family="Liberation Sans, sans-serif" font-size="10.2" text-anchor="middle" fill="#000"><rect x="93.1" y="420.5" width="30.4" height="11.5" fill="#8c510a" stroke="#8a8a8a" stroke-width="0.7"/><text transform="translate(108.3 443.5) scale(0.870 1)">Record</text><text transform="translate(108.3 452.3) scale(0.870 1)">Driest</text><text transform="translate(109.1 463.7) scale(0.870 1)" font-size="11.6">(&#160;1&#160;)</text><rect x="166.4" y="420.5" width="30.4" height="11.5" fill="#d8b365" stroke="#8a8a8a" stroke-width="0.7"/><text transform="translate(181.6 443.5) scale(0.870 1)">Much</text><text transform="translate(181.6 452.3) scale(0.870 1)">Below</text><text transform="translate(181.6 461.1) scale(0.870 1)">Average</text><rect x="239.7" y="420.5" width="30.4" height="11.5" fill="#f6e8c3" stroke="#8a8a8a" stroke-width="0.7"/><text transform="translate(254.9 443.5) scale(0.870 1)">Below</text><text transform="translate(254.9 452.3) scale(0.870 1)">Average</text><rect x="313.0" y="420.5" width="30.4" height="11.5" fill="#f5f5f5" stroke="#8a8a8a" stroke-width="0.7"/><text transform="translate(328.2 443.5) scale(0.870 1)">Near</text><text transform="translate(328.2 452.3) scale(0.870 1)">Average</text><rect x="386.3" y="420.5" width="30.4" height="11.5" fill="#c7eae5" stroke="#8a8a8a" stroke-width="0.7"/><text transform="translate(401.5 443.5) scale(0.870 1)">Above</text><text transform="translate(401.5 452.3) scale(0.870 1)">Average</text><rect x="459.6" y="420.5" width="30.4" height="11.5" fill="#5ab4ac" stroke="#8a8a8a" stroke-width="0.7"/><text transform="translate(474.8 443.5) scale(0.870 1)">Much</text><text transform="translate(474.8 452.3) scale(0.870 1)">Above</text><text transform="translate(474.8 461.1) scale(0.870 1)">Average</text><rect x="532.9" y="420.5" width="30.4" height="11.5" fill="#01665e" stroke="#8a8a8a" stroke-width="0.7"/><text transform="translate(548.1 443.5) scale(0.870 1)">Record</text><text transform="translate(548.1 452.3) scale(0.870 1)">Wettest</text><text transform="translate(548.9 463.7) scale(0.870 1)" font-size="11.6">(&#160;123&#160;)</text></g>
<defs><clipPath id="noaac"><circle cx="565" cy="286.3" r="20.8"/></clipPath></defs>
<circle cx="565" cy="286.3" r="21.2" fill="#b49a84"/>
<g clip-path="url(#noaac)">
<rect x="540" y="260" width="50" height="55" fill="#1e9bd7"/>
<path d="M540,250 L590,250 L590,271 C580,279 572,286 565.5,289 C558,285 550,279 540,272 Z" fill="#1b3f8e"/>
<path d="M540,272 C550,279 558,285 565.5,289 C572,286 580,279 590,271 L590,279 C580,285 572,291 563.5,294.5 C555,291 548,286 540,280Z" fill="#ffffff"/>
<path d="M555,295.2 C563,294 571,292.8 579,291 L578,292.8 C570,295 563,296.2 555,296.6Z" fill="#ffffff"/>
</g>
<text transform="translate(565.3 278.8) scale(1.1 1)" font-family="Liberation Sans, sans-serif" font-weight="bold" font-size="6.2" fill="#fff" text-anchor="middle">NOAA</text>
<g font-family="Liberation Sans, sans-serif" font-size="9.2" text-anchor="middle" fill="#f7f7f7" stroke="#f7f7f7" stroke-width="0.2"><text transform="translate(565.0 320.2) scale(0.940 1)">National Centers for</text><text transform="translate(565.1 330.6) scale(0.950 1)">Environmental</text><text transform="translate(565.0 340.3) scale(0.950 1)">Information</text><text transform="translate(565.3 350.4) scale(0.860 1)">Mon Nov&#160;&#160;5 2018</text></g>
</svg></body></html>
